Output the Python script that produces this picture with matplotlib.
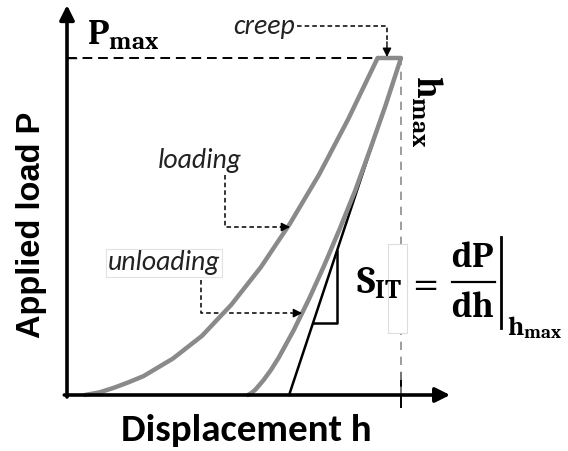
import matplotlib
matplotlib.use("Agg")
import matplotlib.pyplot as plt
from matplotlib.patches import Rectangle

plt.rcParams['mathtext.fontset'] = 'custom'
plt.rcParams['mathtext.rm'] = 'Caladea'
plt.rcParams['mathtext.bf'] = 'Caladea:bold'
plt.rcParams['mathtext.it'] = 'Caladea:italic'

# ---- data (normalised: h_max = 1, P_max = 1) ----
load_h = [0.054, 0.098, 0.142, 0.185, 0.229, 0.317, 0.404, 0.492, 0.580, 0.667, 0.755, 0.842, 0.930]
load_P = [0.0, 0.008, 0.022, 0.038, 0.056, 0.108, 0.1754, 0.2679, 0.3788, 0.5077, 0.6545, 0.8187, 1.0]
creep_h = [0.930, 1.0]
creep_P = [1.0, 1.0]
unload_h = [1.0, 0.954, 0.908, 0.863, 0.817, 0.771, 0.725, 0.679, 0.634, 0.611, 0.588, 0.565, 0.553, 0.542]
unload_P = [1.0, 0.860, 0.730, 0.607, 0.494, 0.3866, 0.2857, 0.1926, 0.1111, 0.0748, 0.0436, 0.0170, 0.0066, 0.0]
tangent_h = [0.665, 1.0]
tangent_P = [0.0, 1.0]
tri_h = [0.737, 0.808, 0.808]
tri_P = [0.215, 0.215, 0.427]

fig = plt.figure(figsize=(5.68, 4.51), dpi=100)
ax = fig.add_axes([0, 0, 1, 1])
ax.set_xlim(-67/334, 501/334)
ax.set_ylim(-56/337, 395/337)
ax.axis('off')

# axes with arrows
ax.annotate('', xy=(0, 1.157), xytext=(0, -0.006),
            arrowprops=dict(arrowstyle='-|>', lw=2.6, color='k', mutation_scale=22,
                            shrinkA=0, shrinkB=0), zorder=5)
ax.annotate('', xy=(1.147, 0), xytext=(-0.008, 0),
            arrowprops=dict(arrowstyle='-|>', lw=2.6, color='k', mutation_scale=22,
                            shrinkA=0, shrinkB=0), zorder=5)
# ticks
ax.plot([0, 0.027], [1, 1], color='k', lw=1.0)
ax.plot([1, 1], [-0.036, 0.065], color='k', lw=1.4)

# Pmax dashed line and hmax dashed line
ax.plot([0, 0.915], [1, 1], color='k', lw=1.4, ls=(0, (5, 3)))
ax.plot([1, 1], [0.0, 0.985], color='#8c8c8c', lw=1.2, ls=(0, (5, 4)))

# tangent & triangle
ax.plot(tangent_h, tangent_P, color='k', lw=1.8, zorder=2)
ax.plot(tri_h, tri_P, color='k', lw=1.8, zorder=2)

# curves
curve_h = load_h + creep_h[1:] + unload_h[1:]
curve_P = load_P + creep_P[1:] + unload_P[1:]
ax.plot(curve_h, curve_P, color='#8a8a8a', lw=3.2, solid_joinstyle='round',
        solid_capstyle='round', zorder=3)

# axis titles
ax.text(-0.105, 0.504, 'Applied load P', rotation=90, ha='center', va='center',
        fontsize=23.5, fontweight='bold', family='Liberation Sans')
ax.text(0.537, -0.104, 'Displacement h', ha='center', va='center',
        fontsize=28, fontweight='bold', family='Carlito')
ax.text(0.060, 1.039, r'$\mathbf{P_{max}}$', ha='left', va='baseline', fontsize=26)
ax.text(1.076, 0.840, r'$\mathbf{h_{max}}$', ha='center', va='center', fontsize=26,
        rotation=-90)

lab = dict(fontsize=20, family='Carlito', fontstyle='italic', color='#222222')
ax.text(0.398, 0.697, 'loading', ha='center', va='center', **lab)
ax.text(0.121, 0.392, 'unloading', ha='left', va='center',
        bbox=dict(boxstyle='square,pad=0.06', fc='white', ec='#e2e2e2', lw=0.8), **lab)
ax.text(0.590, 1.092, 'creep', ha='center', va='center', **lab)

# dashed leader arrows
dash = dict(color='k', lw=1.1, ls=(0, (3, 2)))
def head(x, y, dx, dy):
    ax.annotate('', xy=(x, y), xytext=(x - dx, y - dy),
                arrowprops=dict(arrowstyle='-|>', lw=1.0, color='k', mutation_scale=13,
                                shrinkA=0, shrinkB=0))

ax.plot([0.473, 0.473, 0.64], [0.653, 0.4985, 0.4985], **dash)
head(0.668, 0.4985, 0.03, 0)
ax.plot([0.401, 0.401, 0.675], [0.341, 0.243, 0.243], **dash)
head(0.704, 0.243, 0.03, 0)
ax.plot([0.689, 0.958, 0.958], [1.095, 1.095, 1.045], **dash)
head(0.958, 1.003, 0, -0.045)

# placeholder box
ax.add_patch(Rectangle((0.961, 0.184), 0.057, 0.264, fc='white', ec='#dddddd', lw=0.8, zorder=4))

# formula  S_IT = dP/dh |_hmax
ax.text(0.865, 0.303, r'$\mathbf{S_{IT}}$', ha='left', va='baseline', fontsize=28, zorder=6)
ax.text(1.072, 0.335, '=', ha='center', va='center_baseline', fontsize=34,
        family='Caladea', zorder=6)
ax.text(1.214, 0.380, r'$\mathbf{dP}$', ha='center', va='baseline', fontsize=26, zorder=6)
ax.plot([1.153, 1.281], [0.335, 0.335], color='k', lw=1.6, zorder=6)
ax.text(1.214, 0.231, r'$\mathbf{dh}$', ha='center', va='baseline', fontsize=26, zorder=6)
ax.plot([1.298, 1.298], [0.199, 0.469], color='k', lw=2.0, zorder=6)
ax.text(1.317, 0.178, r'$\mathbf{h_{max}}$', ha='left', va='baseline', fontsize=19.5, zorder=6)

fig.savefig('out.png', dpi=100)
